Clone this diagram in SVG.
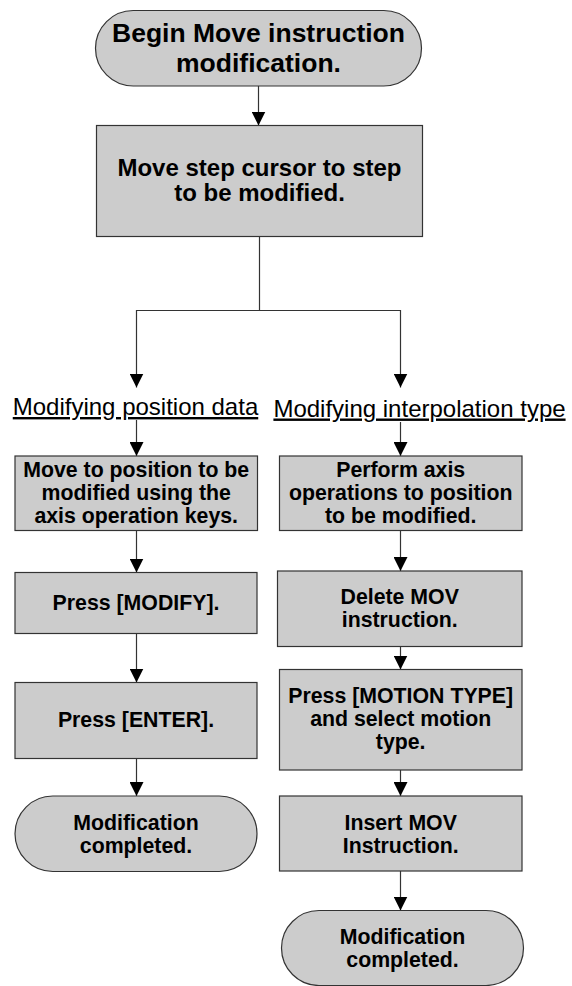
<svg xmlns="http://www.w3.org/2000/svg" width="572" height="986" viewBox="0 0 572 986">
<defs>
<style>
.shape{fill:#cccccc;stroke:#333333;stroke-width:1.2}
.ln{fill:none;stroke:#333333;stroke-width:1.2}
.t{font-family:"Liberation Sans",Arial,Helvetica,sans-serif;font-weight:bold;text-anchor:middle;fill:#000}
.lbl{font-family:"Liberation Sans",Arial,Helvetica,sans-serif;font-size:24px;text-anchor:middle;fill:#000;text-decoration:underline}
</style>
<marker id="ah" markerUnits="userSpaceOnUse" markerWidth="14" markerHeight="14" refX="14" refY="7" orient="auto">
<path d="M0,0 L14,7 L0,14 z" fill="#000"/>
</marker>
</defs>
<rect width="572" height="986" fill="#ffffff"/>
<g id="connectors">
<line class="ln" x1="258.5" y1="86" x2="258.5" y2="125.5" marker-end="url(#ah)"/>
<polyline class="ln" points="259.5,236.5 259.5,310.5 136.5,310.5 136.5,387.5" marker-end="url(#ah)"/>
<polyline class="ln" points="259.5,310.5 400.5,310.5 400.5,387.5" marker-end="url(#ah)"/>
<line class="ln" x1="136.5" y1="420" x2="136.5" y2="456" marker-end="url(#ah)"/>
<line class="ln" x1="400.5" y1="422" x2="400.5" y2="456" marker-end="url(#ah)"/>
<line class="ln" x1="136.5" y1="530.5" x2="136.5" y2="572.5" marker-end="url(#ah)"/>
<line class="ln" x1="400.5" y1="530.5" x2="400.5" y2="571" marker-end="url(#ah)"/>
<line class="ln" x1="136.5" y1="633.5" x2="136.5" y2="682.5" marker-end="url(#ah)"/>
<line class="ln" x1="400.5" y1="646.5" x2="400.5" y2="669.5" marker-end="url(#ah)"/>
<line class="ln" x1="136.5" y1="758.5" x2="136.5" y2="796" marker-end="url(#ah)"/>
<line class="ln" x1="400.5" y1="770" x2="400.5" y2="796" marker-end="url(#ah)"/>
<line class="ln" x1="400.5" y1="871" x2="400.5" y2="910.5" marker-end="url(#ah)"/>
</g>
<g id="start">
<rect class="shape" x="95.5" y="10.5" width="326" height="75.5" rx="37.75" ry="37.75"/>
<text class="t" font-size="26.5" x="258.5" y="41.5">Begin Move instruction</text>
<text class="t" font-size="26.5" x="258.5" y="71.5">modification.</text>
</g>
<g id="move-cursor">
<rect class="shape" x="96.5" y="125.5" width="326" height="111"/>
<text class="t" font-size="24" x="259.5" y="176">Move step cursor to step</text>
<text class="t" font-size="24" x="259.5" y="200.5">to be modified.</text>
</g>
<g id="label-position">
<text class="lbl" x="135.5" y="415">Modifying position data</text>
</g>
<g id="label-interpolation">
<text class="lbl" x="419.5" y="416.5">Modifying interpolation type</text>
</g>
<g id="move-to-position">
<rect class="shape" x="15" y="456" width="242.5" height="74.5"/>
<text class="t" font-size="21.3" x="136.2" y="476.5">Move to position to be</text>
<text class="t" font-size="21.3" x="136.2" y="499.5">modified using the</text>
<text class="t" font-size="21.3" x="136.2" y="522.5">axis operation keys.</text>
</g>
<g id="perform-axis">
<rect class="shape" x="279.5" y="456" width="242.5" height="74.5"/>
<text class="t" font-size="21.3" x="400.7" y="476.5">Perform axis</text>
<text class="t" font-size="21.3" x="400.7" y="499.5">operations to position</text>
<text class="t" font-size="21.3" x="400.7" y="522.5">to be modified.</text>
</g>
<g id="press-modify">
<rect class="shape" x="15" y="572.5" width="242" height="61"/>
<text class="t" font-size="21.3" x="136" y="610">Press [MODIFY].</text>
</g>
<g id="delete-mov">
<rect class="shape" x="277.5" y="571" width="244.5" height="75.5"/>
<text class="t" font-size="21.3" x="399.7" y="604">Delete MOV</text>
<text class="t" font-size="21.3" x="399.7" y="627">instruction.</text>
</g>
<g id="press-enter">
<rect class="shape" x="15" y="682.5" width="242" height="76"/>
<text class="t" font-size="21.3" x="136" y="727">Press [ENTER].</text>
</g>
<g id="press-motion-type">
<rect class="shape" x="279.5" y="669.5" width="242.5" height="100.5"/>
<text class="t" font-size="21.3" x="400.7" y="702.5">Press [MOTION TYPE]</text>
<text class="t" font-size="21.3" x="400.7" y="725.5">and select motion</text>
<text class="t" font-size="21.3" x="400.7" y="748.5">type.</text>
</g>
<g id="end-left">
<rect class="shape" x="15" y="796" width="242" height="75.5" rx="37.75" ry="37.75"/>
<text class="t" font-size="21.3" x="136" y="829.5">Modification</text>
<text class="t" font-size="21.3" x="136" y="852.5">completed.</text>
</g>
<g id="insert-mov">
<rect class="shape" x="279.5" y="796" width="242.5" height="75"/>
<text class="t" font-size="21.3" x="400.7" y="829.5">Insert MOV</text>
<text class="t" font-size="21.3" x="400.7" y="852.5">Instruction.</text>
</g>
<g id="end-right">
<rect class="shape" x="281.5" y="910.5" width="242" height="75" rx="37.5" ry="37.5"/>
<text class="t" font-size="21.3" x="402.5" y="943.5">Modification</text>
<text class="t" font-size="21.3" x="402.5" y="966.5">completed.</text>
</g>
</svg>
